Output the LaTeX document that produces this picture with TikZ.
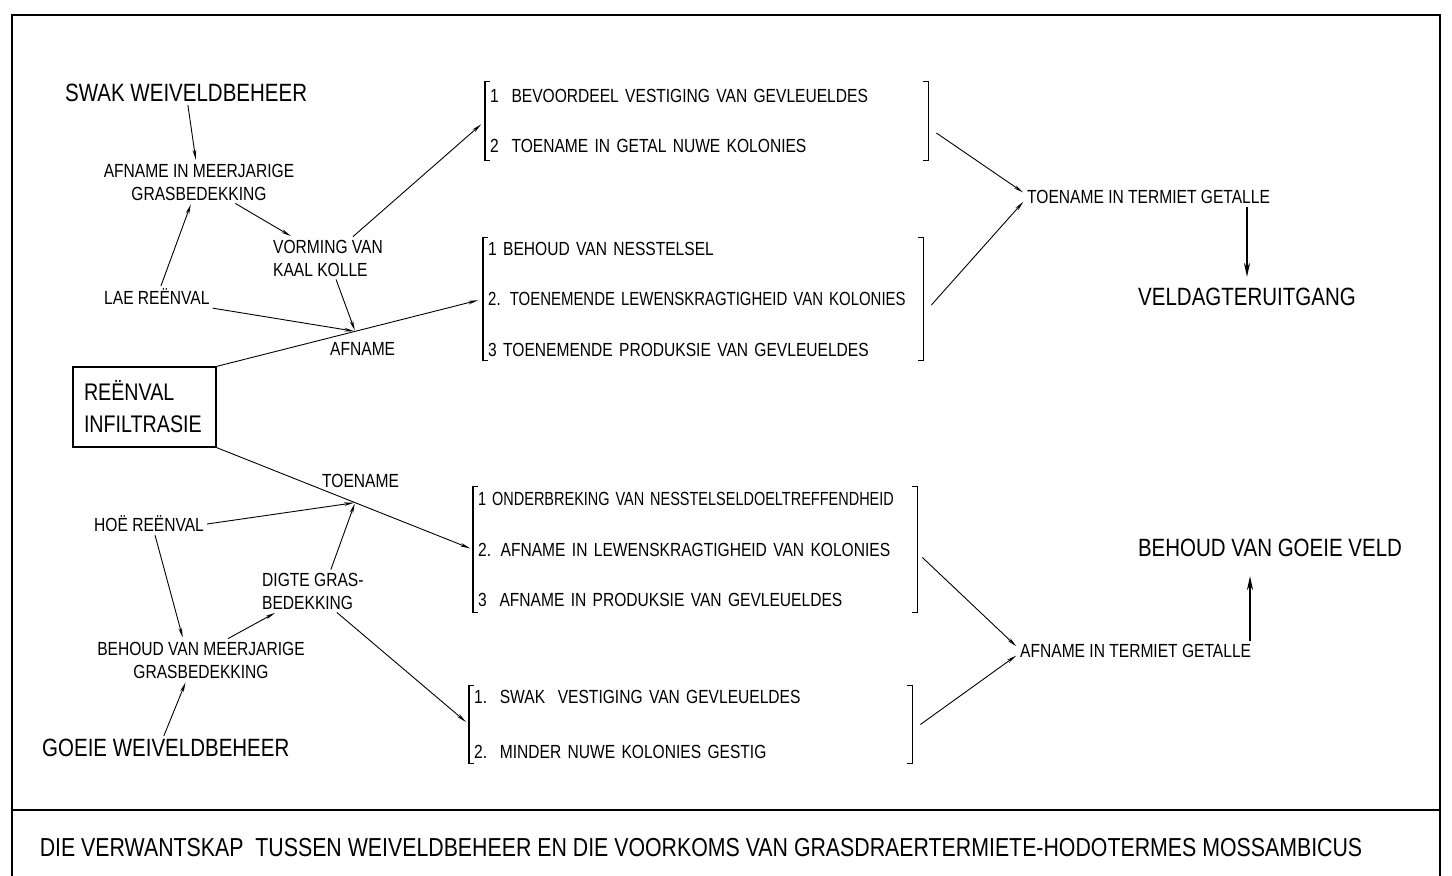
\documentclass[tikz,border=0pt]{standalone}
\usepackage{fontspec}
\usepackage{graphicx}
\setmainfont{Liberation Sans}[FakeStretch=0.82]
\usetikzlibrary{arrows.meta,calc}

\newcommand{\kleinfont}{\fontsize{19}{23}\selectfont}
\newcommand{\grootfont}{\fontsize{25}{32}\selectfont}
\newcommand{\hakies}[1]{%
    \draw[hakie] ([xshift=5pt]#1.north west) -- (#1.north west)
        -- (#1.south west) -- ([xshift=5pt]#1.south west);
    \draw[hakie] ([xshift=-5pt]#1.north east) -- (#1.north east)
        -- (#1.south east) -- ([xshift=-5pt]#1.south east);
}

\tikzset{
    klein/.style={font=\kleinfont, inner sep=3pt},
    groot/.style={font=\grootfont, inner sep=3pt},
    lys/.style={anchor=west, inner xsep=5pt, inner ysep=0pt, align=left},
    hakie/.style={line width=1.1pt},
    pyl/.style={line width=0.9pt, -{Stealth[length=10pt,width=3.6pt]}, shorten >=1pt},
    dikpyl/.style={line width=2.2pt, -{Stealth[length=14pt,width=6pt]}},
}

\begin{document}
\begin{tikzpicture}[x=1pt, y=-1pt]
    \useasboundingbox (0,0) rectangle (1452,876);

    % raam en onderskrif
    \draw[line width=1.4pt] (12,880) -- (12,15) -- (1440,15) -- (1440,880);
    \draw[line width=1.4pt] (12,810) -- (1440,810);
    \node[font=\fontsize{26}{30}\selectfont] (titel) at (701,848)
        {DIE VERWANTSKAP\ \ TUSSEN WEIVELDBEHEER EN DIE VOORKOMS VAN GRASDRAERTERMIETE-HODOTERMES MOSSAMBICUS};

    % linkerkant
    \node[groot, anchor=west] (swak) at (62,93) {SWAK WEIVELDBEHEER};
    \node[klein, align=center] (afmeer) at (199,182) {AFNAME IN MEERJARIGE\\GRASBEDEKKING};
    \node[klein, anchor=west, align=left] (vorming) at (270,258) {VORMING VAN\\KAAL KOLLE};
    \node[klein, anchor=west] (lae) at (101,297) {LAE REËNVAL};
    \node[klein, anchor=west] (afname) at (327,349) {AFNAME};
    \node[draw, line width=1.2pt, minimum height=80pt, text width=121pt, inner xsep=11pt,
        align=left, font=\fontsize{24}{32}\selectfont] (reenval) at (144.5,407) {REËNVAL\\INFILTRASIE};
    \node[klein, anchor=west] (toename) at (319,481) {TOENAME};
    \node[klein, anchor=west] (hoe) at (91,524) {HOË REËNVAL};
    \node[klein, anchor=west, align=left] (digte) at (259,591) {DIGTE GRAS-\\BEDEKKING};
    \node[klein, align=center] (behmeer) at (201,660) {BEHOUD VAN MEERJARIGE\\GRASBEDEKKING};
    \node[groot, anchor=west] (goeie) at (39,748) {GOEIE WEIVELDBEHEER};

    % lyste tussen hakies
    \node[lys, font=\fontsize{19}{50}\selectfont, minimum width=443pt, minimum height=78pt,
        text width=433pt] (lysA) at (485,121)
        {1\ \ BEVOORDEEL VESTIGING VAN GEVLEUELDES\\2\ \ TOENAME IN GETAL NUWE KOLONIES};
    \node[lys, font=\fontsize{19}{50.5}\selectfont, minimum width=440pt, minimum height=122pt,
        text width=430pt] (lysB) at (483,299)
        {1 BEHOUD VAN NESSTELSEL\\\scalebox{0.96}[1]{2. TOENEMENDE LEWENSKRAGTIGHEID VAN KOLONIES}\\3 TOENEMENDE PRODUKSIE VAN GEVLEUELDES};
    \node[lys, font=\fontsize{19}{50.5}\selectfont, minimum width=444pt, minimum height=125pt,
        text width=434pt] (lysC) at (473,549.5)
        {\scalebox{0.93}[1]{1 ONDERBREKING VAN NESSTELSELDOELTREFFENDHEID}\\2. AFNAME IN LEWENSKRAGTIGHEID VAN KOLONIES\\3\ \ AFNAME IN PRODUKSIE VAN GEVLEUELDES};
    \node[lys, font=\fontsize{19}{55}\selectfont, minimum width=443pt, minimum height=77pt,
        text width=433pt] (lysD) at (469,724.5)
        {1.\ \ SWAK\ \ VESTIGING VAN GEVLEUELDES\\2.\ \ MINDER NUWE KOLONIES GESTIG};
    \hakies{lysA}
    \hakies{lysB}
    \hakies{lysC}
    \hakies{lysD}

    % regterkant
    \node[klein, anchor=west] (toetermiet) at (1024,197) {TOENAME IN TERMIET GETALLE};
    \node[groot] (veld) at (1247,297) {VELDAGTERUITGANG};
    \node[klein, anchor=west] (aftermiet) at (1017,651) {AFNAME IN TERMIET GETALLE};
    \node[groot] (goeieveld) at (1270,548) {BEHOUD VAN GOEIE VELD};

    % aansluitpunte op die lyne
    \coordinate (afpunt) at ($(reenval.north east)!0.52!(lysB.west)$);
    \coordinate (toepunt) at ($(reenval.south east)!0.54!(lysC.west)$);
    \path ([xshift=-20pt]goeieveld.south) coordinate (vpyl);

    % pyle
    \draw[pyl] (swak) -- (afmeer);
    \draw[pyl] (lae) -- (afmeer);
    \draw[pyl] (afmeer) -- (vorming);
    \draw[pyl, shorten >=5pt] ([xshift=25pt]vorming.north) -- (lysA.west);
    \draw[pyl] ([xshift=8pt]vorming.south) -- (afpunt);
    \draw[pyl] (lae.south east) -- (afpunt);
    \draw[pyl, shorten >=5pt] (reenval.north east) -- (lysB.west);
    \draw[pyl, shorten >=3pt] (reenval.south east) -- (lysC.west);
    \draw[pyl] ([xshift=6pt]hoe.south) -- ([xshift=-18pt]behmeer.north);
    \draw[pyl] ([xshift=27pt]behmeer.north) -- ([xshift=-37pt]digte.south);
    \draw[pyl] ([xshift=-2pt]goeie.north) -- ([xshift=-15pt]behmeer.south);
    \draw[pyl] (hoe.east) -- (toepunt);
    \draw[pyl] ([xshift=18pt]digte.north) -- (toepunt);
    \draw[pyl, shorten >=4pt] ([xshift=24pt]digte.south) -- (lysD.west);
    \draw[pyl] ([xshift=8pt,yshift=-12pt]lysA.east) -- ([yshift=4pt]toetermiet.west);
    \draw[pyl] ([xshift=8pt,yshift=-6pt]lysB.east) -- ([yshift=-4pt]toetermiet.west);
    \draw[pyl] ([xshift=5pt,yshift=-8pt]lysC.east) -- ([yshift=4pt]aftermiet.west);
    \draw[pyl] ([xshift=8pt]lysD.east) -- ([yshift=-4pt]aftermiet.west);
    \draw[dikpyl, shorten >=8pt] (toetermiet.south -| veld.north) -- (veld.north);
    \draw[dikpyl, shorten >=16pt] (vpyl |- aftermiet.north) -- (vpyl);
\end{tikzpicture}
\end{document}
